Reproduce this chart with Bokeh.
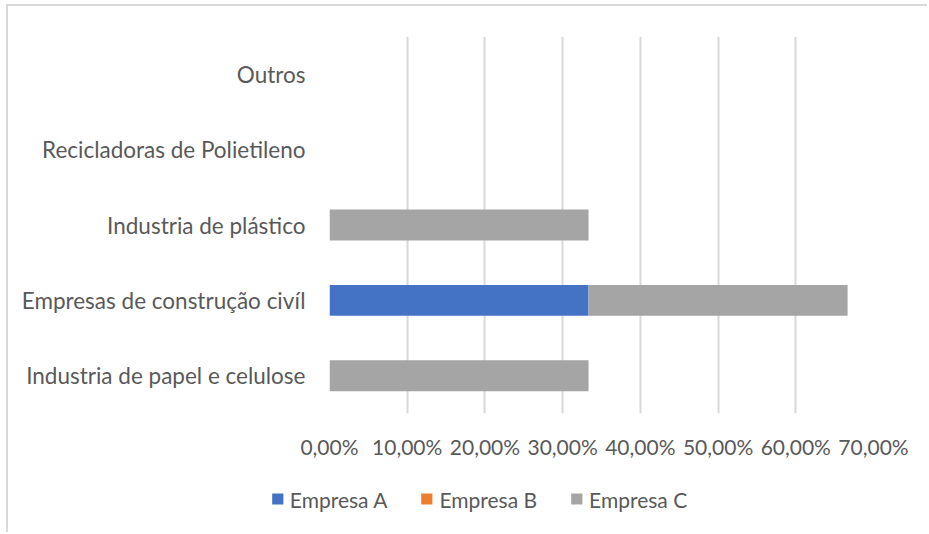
from bokeh.plotting import figure
from bokeh.models import (ColumnDataSource, Range1d, FixedTicker,
                          CustomJSTickFormatter, Legend, LegendItem)
from bokeh.embed import file_html
from bokeh.resources import INLINE

# Destination categories, bottom to top
categories = [
    "Industria de papel e celulose",
    "Empresas de construção civíl",
    "Industria de plástico",
    "Recicladoras de Polietileno",
    "Outros",
]
series = ["Empresa A", "Empresa B", "Empresa C"]
empresa_a = [0.0, 1 / 3, 0.0, 0.0, 0.0]
empresa_b = [0.0, 0.0, 0.0, 0.0, 0.0]
empresa_c = [1 / 3, 1 / 3, 1 / 3, 0.0, 0.0]
colors = ["#4472C4", "#ED7D31", "#A5A5A5"]
x_ticks = [0.0, 0.1, 0.2, 0.3, 0.4, 0.5, 0.6, 0.7]

source = ColumnDataSource(dict(
    cat=categories,
    **{"Empresa A": empresa_a, "Empresa B": empresa_b, "Empresa C": empresa_c},
))

FONT = "Lato"
TEXT = "#595959"
FRAME = "2px solid #D9D9D9"

# ---- main chart -----------------------------------------------------------
p = figure(
    y_range=categories,
    x_range=Range1d(0, 0.7),
    width=921, height=461,
    output_backend="svg", toolbar_location=None,
    min_border_left=321, min_border_right=56,
    min_border_top=30, min_border_bottom=54,
)
p.styles = {"margin-left": "6px", "margin-top": "4px",
            "border-left": FRAME, "border-top": FRAME}
p.outline_line_color = None
p.background_fill_color = "white"
p.border_fill_color = "white"

p.hbar_stack(series, y="cat", height=0.41, color=colors,
             line_color=None, source=source)

# x axis: percentages with Portuguese decimal comma
p.xaxis.ticker = FixedTicker(ticks=x_ticks)
p.xaxis.formatter = CustomJSTickFormatter(
    code="return (tick * 100).toFixed(2).replace('.', ',') + '%';")
p.xaxis.axis_line_color = None
p.xaxis.major_tick_line_color = None
p.xaxis.minor_tick_line_color = None
p.xaxis.major_label_standoff = 14
p.xaxis.major_label_text_font = FONT
p.xaxis.major_label_text_font_size = "21px"
p.xaxis.major_label_text_color = TEXT

p.yaxis.axis_line_color = None
p.yaxis.major_tick_line_color = None
p.yaxis.minor_tick_line_color = None
p.yaxis.major_label_standoff = 18
p.yaxis.major_label_text_font = FONT
p.yaxis.major_label_text_font_size = "22.5px"
p.yaxis.major_label_text_color = TEXT

p.xgrid.grid_line_color = "#D9D9D9"
p.xgrid.grid_line_width = 2
p.ygrid.grid_line_color = None

# ---- legend strip ---------------------------------------------------------
# Same stacked bars, kept outside the visible range so only the legend shows.
lg = figure(
    y_range=categories,
    x_range=Range1d(-11, -10),
    width=921, height=67,
    output_backend="svg", toolbar_location=None,
    min_border_left=20, min_border_right=0,
    min_border_top=0, min_border_bottom=0,
)
lg.styles = {"margin-left": "6px", "border-left": FRAME}
lg.axis.visible = False
lg.grid.visible = False
lg.outline_line_color = None
lg.border_fill_color = "white"
lg.background_fill_color = "white"
lg_renderers = lg.hbar_stack(series, y="cat", height=0.41, color=colors,
                             line_color=None, source=source)

legend = Legend(
    items=[LegendItem(label=s, renderers=[r]) for s, r in zip(series, lg_renderers)],
    orientation="horizontal",
    location="center",
    glyph_width=14, glyph_height=14,
    label_standoff=6, spacing=32,
    label_text_font=FONT, label_text_font_size="21px",
    label_text_color=TEXT,
    border_line_color=None, background_fill_alpha=0,
    padding=0, margin=0,
)
lg.add_layout(legend)

open("out.html", "w").write(file_html([p, lg], INLINE))
